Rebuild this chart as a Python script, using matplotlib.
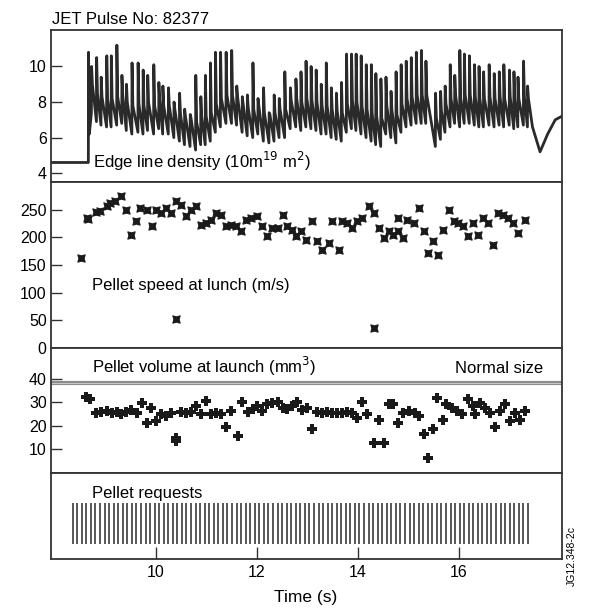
import numpy as np
import matplotlib
matplotlib.use("Agg")
import matplotlib.pyplot as plt

plt.rcParams['font.family'] = ['Liberation Sans', 'DejaVu Sans']

# Edge line density: pellet spikes (time, peak, level just before the spike)
spike_t = [8.67, 8.73, 8.83, 8.92, 9.03, 9.12, 9.23, 9.33, 9.42, 9.53, 9.65, 9.75, 9.84, 9.96,
           10.06, 10.14, 10.25, 10.36, 10.47, 10.57, 10.68, 10.79, 10.89, 10.98, 11.08, 11.18,
           11.28, 11.39, 11.50, 11.60, 11.71, 11.81, 11.92, 12.02, 12.13, 12.24, 12.34, 12.44,
           12.55, 12.66, 12.77, 12.87, 12.97, 13.07, 13.17, 13.27, 13.37, 13.47, 13.57, 13.67,
           13.77, 13.87, 13.96, 14.06, 14.16, 14.26, 14.35, 14.45, 14.55, 14.65, 14.75, 14.85,
           14.95, 15.05, 15.15, 15.25, 15.34, 15.53, 15.63, 15.72, 15.82, 15.91, 16.01, 16.10,
           16.20, 16.30, 16.39, 16.48, 16.59, 16.69, 16.79, 16.88, 16.99, 17.08, 17.16, 17.27, 17.35]
spike_peak = [10.8, 10.0, 10.5, 9.4, 10.6, 10.6, 11.2, 9.5, 9.0, 10.2, 10.2, 9.8, 9.5, 10.1,
              9.1, 8.9, 8.8, 8.0, 8.5, 7.6, 7.3, 9.5, 8.3, 9.5, 10.2, 10.8,
              10.8, 10.8, 10.9, 8.9, 8.3, 8.4, 10.2, 8.2, 8.8, 7.4, 8.4, 8.2,
              9.7, 8.8, 9.3, 9.7, 10.3, 10.0, 9.8, 9.0, 10.2, 8.8, 8.5, 9.1,
              10.7, 10.7, 10.7, 10.6, 10.1, 10.1, 9.6, 9.3, 9.4, 8.6, 9.7, 10.1,
              10.3, 10.5, 10.8, 10.9, 10.3, 8.5, 8.6, 8.9, 10.1, 9.5, 10.9, 10.7,
              10.6, 10.1, 10.0, 9.7, 10.1, 9.6, 9.7, 10.1, 9.8, 9.7, 9.4, 10.3, 8.9]
spike_base = [4.6, 7.4, 6.9, 6.7, 6.6, 6.6, 6.7, 6.8, 6.4, 6.2, 6.3, 6.2, 6.4, 6.2,
              6.5, 6.2, 6.2, 6.0, 5.8, 5.6, 5.5, 5.3, 5.6, 5.6, 5.8, 6.3,
              6.6, 6.8, 6.8, 6.7, 6.3, 6.1, 6.0, 6.2, 5.8, 5.7, 5.8, 6.0,
              6.0, 6.5, 6.6, 6.4, 6.6, 6.5, 6.4, 6.2, 6.2, 6.0, 5.9, 5.8,
              6.3, 6.5, 6.4, 6.2, 6.0, 5.8, 5.6, 5.5, 6.2, 6.0, 5.7, 6.3,
              6.6, 6.7, 6.8, 6.8, 6.8, 5.5, 5.9, 6.3, 6.6, 6.8, 6.6, 6.8,
              6.8, 6.7, 6.6, 6.6, 6.7, 6.6, 6.7, 6.6, 6.7, 6.5, 6.6, 6.7, 6.6]
pre_t = [7.93, 8.67]
pre_v = [4.6, 4.6]
tail_t = [17.45, 17.60, 17.75, 17.90, 18.03]
tail_v = [6.6, 5.2, 6.2, 7.0, 7.2]

# Pellet speed at launch (m/s)
speed_t = [8.52, 8.64, 8.67, 8.83, 8.90, 9.03, 9.09, 9.19, 9.31, 9.42, 9.51, 9.62, 9.69, 9.82,
           9.92, 10.01, 10.11, 10.21, 10.31, 10.41, 10.41, 10.51, 10.60, 10.70, 10.80, 10.90,
           11.00, 11.10, 11.20, 11.29, 11.39, 11.49, 11.59, 11.69, 11.79, 11.88, 12.01, 12.11,
           12.21, 12.31, 12.41, 12.51, 12.60, 12.70, 12.77, 12.87, 12.97, 13.10, 13.20, 13.29,
           13.43, 13.49, 13.62, 13.69, 13.79, 13.88, 13.98, 14.08, 14.21, 14.31, 14.31, 14.41,
           14.51, 14.61, 14.70, 14.80, 14.80, 14.90, 14.97, 15.10, 15.20, 15.30, 15.39, 15.49,
           15.59, 15.69, 15.79, 15.89, 15.98, 16.08, 16.18, 16.28, 16.38, 16.48, 16.58, 16.67,
           16.77, 16.87, 16.97, 17.07, 17.17, 17.30]
speed_v = [162, 235, 233, 245, 247, 257, 262, 265, 275, 250, 204, 229, 253, 250,
           220, 250, 244, 253, 244, 265, 52, 259, 238, 250, 256, 223,
           226, 232, 244, 241, 220, 223, 220, 211, 232, 235, 238, 220,
           202, 217, 217, 241, 220, 214, 202, 211, 196, 229, 193, 178,
           190, 229, 178, 229, 226, 217, 229, 235, 257, 244, 36, 217,
           199, 211, 205, 211, 235, 199, 232, 226, 253, 211, 172, 193,
           169, 214, 250, 229, 226, 220, 202, 226, 205, 235, 226, 187,
           244, 241, 235, 226, 208, 232]

# Pellet volume at launch (mm3)
volume_t = [8.62, 8.71, 8.83, 8.93, 9.03, 9.13, 9.23, 9.32, 9.42, 9.52, 9.63, 9.74, 9.82, 9.91,
            10.01, 10.11, 10.21, 10.31, 10.41, 10.41, 10.51, 10.60, 10.70, 10.80, 10.90, 11.00,
            11.10, 11.19, 11.29, 11.39, 11.49, 11.62, 11.71, 11.82, 11.92, 12.01, 12.11, 12.21,
            12.31, 12.41, 12.51, 12.60, 12.70, 12.80, 12.90, 13.00, 13.10, 13.20, 13.29, 13.39,
            13.49, 13.59, 13.69, 13.79, 13.88, 13.98, 14.08, 14.18, 14.31, 14.41, 14.51, 14.61,
            14.70, 14.80, 14.90, 15.00, 15.13, 15.20, 15.30, 15.39, 15.49, 15.56, 15.69, 15.75,
            15.85, 15.95, 16.05, 16.18, 16.28, 16.31, 16.41, 16.51, 16.61, 16.71, 16.80, 16.90,
            17.00, 17.10, 17.20, 17.30]
volume_v = [32.4, 31.5, 25.6, 25.9, 26.3, 25.6, 25.9, 24.9, 25.9, 26.7, 25.3, 29.8, 21.3, 27.7,
            22.0, 24.9, 24.2, 25.6, 15.0, 13.6, 25.9, 25.6, 25.9, 28.4, 24.9, 30.5,
            24.9, 25.3, 24.9, 19.6, 26.3, 15.7, 30.1, 25.9, 27.0, 28.4, 26.3, 29.1,
            29.5, 30.1, 27.7, 27.0, 28.4, 30.1, 26.7, 27.7, 18.8, 25.9, 25.6, 25.9,
            25.3, 25.6, 25.3, 25.9, 25.3, 23.5, 30.1, 24.9, 12.8, 22.7, 12.8, 29.1,
            29.1, 21.3, 25.6, 26.3, 25.6, 24.2, 16.4, 6.5, 18.5, 31.9, 22.7, 29.1,
            27.7, 26.3, 24.9, 31.2, 28.4, 24.9, 29.8, 27.7, 25.6, 19.6, 26.3, 29.1,
            22.0, 25.6, 22.7, 26.3]
normal_size = 38.3

# Pellet requests: regular clock
request_first, request_last, n_requests = 8.36, 17.36, 101
request_t = np.linspace(request_first, request_last, n_requests)

# build the density polyline from the spike table
dens_t = list(pre_t)
dens_v = list(pre_v)
for t, p, b in zip(spike_t, spike_peak, spike_base):
    dens_t += [t, t + 0.004, t + 0.02]
    dens_v += [b, p, b + 1.6]
dens_t += tail_t
dens_v += tail_v

fig = plt.figure(figsize=(5.92, 6.13), dpi=100)
gs = fig.add_gridspec(4, 1, height_ratios=[152, 166, 125, 86], hspace=0,
                      left=0.086, right=0.949, top=0.951, bottom=0.088)
axes = [fig.add_subplot(gs[i]) for i in range(4)]

for ax in axes:
    ax.set_xlim(7.93, 18.03)
    for s in ax.spines.values():
        s.set_color('#333333')
        s.set_linewidth(1.3)
    ax.tick_params(direction='in', length=8, width=1, labelsize=11.5, colors='#333333',
                   labelcolor='black', pad=3)
    ax.tick_params(axis='x', bottom=False, labelbottom=False)

ax1, ax2, ax3, ax4 = axes

ax1.plot(dens_t, dens_v, color='#2a2a2a', lw=2.0)
ax1.set_ylim(3.5, 12.05)
ax1.set_yticks([4, 6, 8, 10])
ax1.text(0.082, 0.092, 'Edge line density (10m$^{19}$ m$^{2}$)', transform=ax1.transAxes,
         fontsize=12, va='baseline')

ax2.scatter(speed_t, speed_v, marker=(4, 1, 45), s=55, color='#1a1a1a', lw=0.8)
ax2.set_ylim(0, 300)
ax2.set_yticks([0, 50, 100, 150, 200, 250])
ax2.text(0.080, 0.35, 'Pellet speed at lunch (m/s)', transform=ax2.transAxes,
         fontsize=12, va='baseline')

ax3.axhline(normal_size, color='#8c8c8c', lw=3)
ax3.axhline(normal_size, color='#d0d0d0', lw=0.6)
ax3.scatter(volume_t, volume_v, marker='P', s=45, color='#1a1a1a', lw=0)
ax3.set_ylim(0, 53)
ax3.set_yticks([10, 20, 30, 40])
ax3.text(0.080, 0.80, 'Pellet volume at launch (mm$^{3}$)', transform=ax3.transAxes,
         fontsize=12, va='baseline')
ax3.text(0.963, 0.80, 'Normal size', transform=ax3.transAxes,
         fontsize=12, va='baseline', ha='right')

ax4.vlines(request_t, 0.17, 0.65, color='#4a4a4a', lw=1.3)
ax4.set_ylim(0, 1)
ax4.set_yticks([])
ax4.set_xticks([10, 12, 14, 16])
ax4.tick_params(axis='x', bottom=True, labelbottom=True, direction='in', length=9, pad=4)
ax4.text(0.080, 0.706, 'Pellet requests', transform=ax4.transAxes,
         fontsize=12, va='baseline')

fig.text(0.088, 0.961, 'JET Pulse No: 82377', fontsize=12, va='baseline')
fig.text(0.517, 0.018, 'Time (s)', fontsize=12.5, va='baseline', ha='center')
fig.text(0.966, 0.093, 'JG12.348-2c', fontsize=7.5, rotation=90, va='center', ha='center')

fig.savefig('out.png', dpi=100)
